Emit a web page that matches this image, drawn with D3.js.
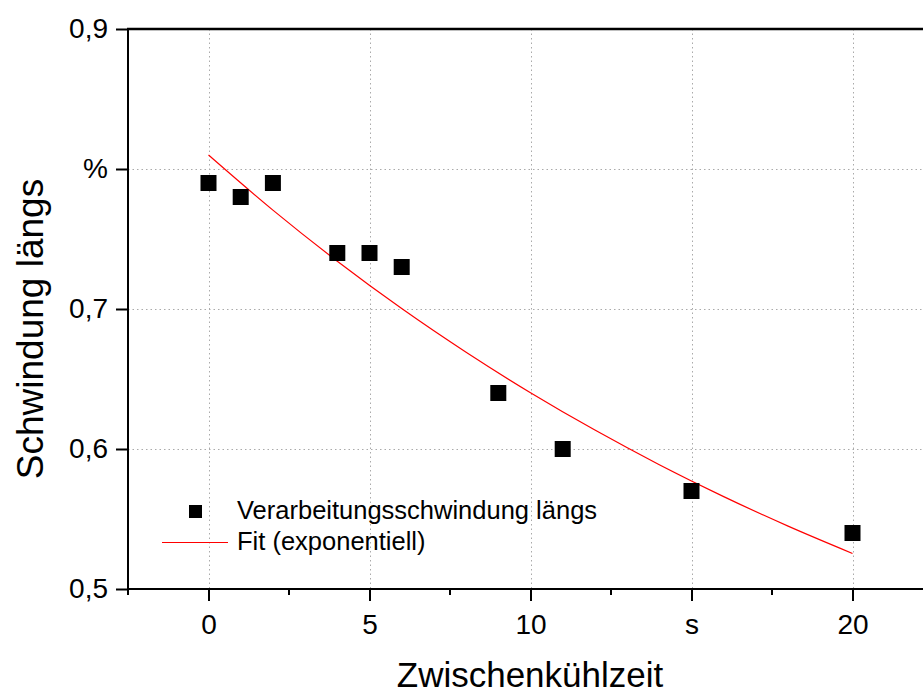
<!DOCTYPE html>
<html><head><meta charset="utf-8">
<script src="https://cdn.jsdelivr.net/npm/d3@7"></script>
<style>body{margin:0;background:#fff}svg{display:block}text{font-family:"Liberation Sans",Arial,sans-serif;fill:#000}</style>
</head><body><svg id="c" width="923" height="695"></svg>
<script>
const xValues = [0, 1, 2, 4, 5, 6, 9, 11, 15, 20];
const yValues = [0.79, 0.78, 0.79, 0.74, 0.74, 0.73, 0.64, 0.60, 0.57, 0.54];
const fitX = [0, 2, 4, 6, 8, 10, 12, 14, 16, 18, 20];
const fitY = [0.810, 0.7706, 0.7341, 0.7003, 0.6691, 0.6402, 0.6135, 0.5888, 0.5660, 0.5449, 0.5254];
const xTicks = [0, 5, 10, 15, 20];
const xTickLabels = ["0", "5", "10", "s", "20"];
const xMinorTicks = [-2.5, 2.5, 7.5, 12.5, 17.5, 22.5];
const yTicks = [0.5, 0.6, 0.7, 0.8, 0.9];
const yTickLabels = ["0,5", "0,6", "0,7", "%", "0,9"];
const legendLabels = ["Verarbeitungsschwindung längs", "Fit (exponentiell)"];
const xTitle = "Zwischenkühlzeit";
const yTitle = "Schwindung längs";

const svg = d3.select("#c");
const x = d3.scaleLinear().domain([-2.5, 25]).range([128, 128 + 27.5 * 32.2]);
const y = d3.scaleLinear().domain([0.5, 0.9]).range([589, 29]);

// grid
const grid = svg.append("g").attr("stroke", "#aaa").attr("stroke-width", 1).attr("stroke-dasharray", "1.5,3");
grid.selectAll(".gv").data(xTicks).join("line")
  .attr("x1", d => Math.round(x(d)) + 0.5).attr("x2", d => Math.round(x(d)) + 0.5)
  .attr("y1", y(0.9)).attr("y2", y(0.5));
grid.selectAll(".gh").data([0.6, 0.7, 0.8]).join("line")
  .attr("y1", d => Math.round(y(d)) + 0.5).attr("y2", d => Math.round(y(d)) + 0.5)
  .attr("x1", x(-2.5)).attr("x2", 923);

// axes
const xAxis = d3.axisBottom(x).tickValues(xTicks).tickSize(12).tickFormat((d, i) => xTickLabels[i]).tickPadding(6);
const gx = svg.append("g").attr("transform", `translate(0,${y(0.5)})`).call(xAxis);
gx.selectAll(".tick text").attr("font-size", 28).attr("dy", "0.95em");
gx.append("g").selectAll("line").data(xMinorTicks).join("line")
  .attr("x1", d => x(d)).attr("x2", d => x(d)).attr("y1", 0).attr("y2", 6)
  .attr("stroke", "#000").attr("stroke-width", 2);
const yAxis = d3.axisLeft(y).tickValues(yTicks).tickSize(12).tickFormat((d, i) => yTickLabels[i]).tickPadding(8);
const gy = svg.append("g").attr("transform", `translate(${x(-2.5)},0)`).call(yAxis);
gy.selectAll(".tick text").attr("font-size", 28);
[gx, gy].forEach(g => {
  g.select(".domain").attr("stroke-width", 2).attr("d", null);
  g.selectAll(".tick line").attr("stroke-width", 2);
  g.attr("font-family", null);
});
gx.select(".domain").attr("d", `M${x(-2.5)},0H923`);
gy.select(".domain").attr("d", `M0,${y(0.5)}V${y(0.9)}`);
// top line
svg.append("line").attr("x1", x(-2.5) - 1).attr("x2", 923).attr("y1", y(0.9)).attr("y2", y(0.9))
  .attr("stroke", "#000").attr("stroke-width", 2.5);

// fit line
const fitData = fitX.map((d, i) => [d, fitY[i]]);
svg.append("path").datum(fitData)
  .attr("d", d3.line().x(d => x(d[0])).y(d => y(d[1])).curve(d3.curveMonotoneX))
  .attr("fill", "none").attr("stroke", "#f00").attr("stroke-width", 1.2);

// points
const s = 16;
svg.append("g").selectAll("rect").data(xValues.map((d, i) => [d, yValues[i]])).join("rect")
  .attr("x", d => x(d[0]) - s / 2).attr("y", d => y(d[1]) - s / 2)
  .attr("width", s).attr("height", s).attr("fill", "#000");

// legend
const lg = svg.append("g");
lg.append("rect").attr("x", 189).attr("y", 505).attr("width", 13).attr("height", 13).attr("fill", "#000");
lg.append("text").attr("x", 237).attr("y", 519).attr("font-size", 25.5).text(legendLabels[0]);
lg.append("line").attr("x1", 162).attr("x2", 228).attr("y1", 542.5).attr("y2", 542.5).attr("stroke", "#f00").attr("stroke-width", 1.2);
lg.append("text").attr("x", 237).attr("y", 550).attr("font-size", 25.5).text(legendLabels[1]);

// titles
svg.append("text").attr("x", 530).attr("y", 687).attr("text-anchor", "middle").attr("font-size", 35).text(xTitle);
svg.append("text").attr("transform", "translate(43,329) rotate(-90)").attr("text-anchor", "middle").attr("font-size", 37).text(yTitle);
</script></body></html>
